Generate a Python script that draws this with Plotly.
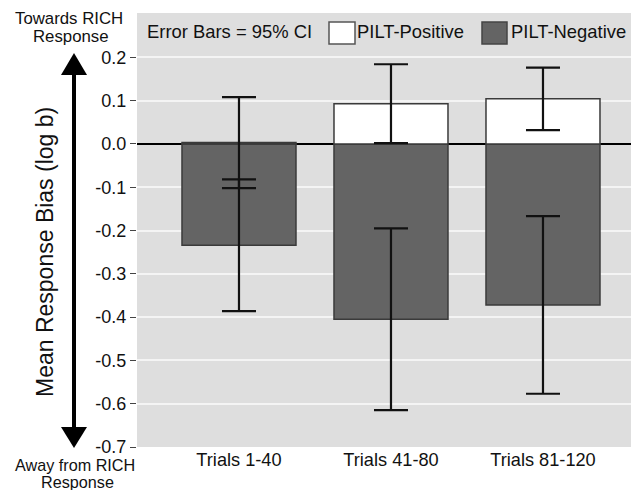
import plotly.graph_objects as go

# ---- data ----
categories = ["Trials 1-40", "Trials 41-80", "Trials 81-120"]
positive_mean = [0.003, 0.093, 0.104]
positive_ci = [0.105, 0.091, 0.072]
negative_mean = [-0.234, -0.405, -0.372]
negative_ci = [0.152, 0.210, 0.205]
y_ticks = [0.2, 0.1, 0.0, -0.1, -0.2, -0.3, -0.4, -0.5, -0.6, -0.7]
y_tick_text = [f"{v:.1f}" for v in y_ticks]

W, H = 631, 490
L, R, T, B = 137, 0, 13, 43
PW, PH = W - L - R, H - T - B

def px(x):
    return (x - L) / PW

def py(y):
    return (H - B - y) / PH

FONT = "Liberation Sans, Arial, Helvetica, sans-serif"
DARK = "#646464"
EDGE = "#3a3a3a"

fig = go.Figure()
fig.add_trace(go.Bar(
    x=categories, y=negative_mean, name="PILT-Negative", width=0.75,
    marker=dict(color=DARK, line=dict(color=EDGE, width=1.5)),
    error_y=dict(type="data", array=negative_ci, color="#111111", thickness=2.2, width=17),
))
fig.add_trace(go.Bar(
    x=categories, y=positive_mean, name="PILT-Positive", width=0.75,
    marker=dict(color="white", line=dict(color=EDGE, width=1.5)),
    error_y=dict(type="data", array=positive_ci, color="#111111", thickness=2.2, width=17),
))

shapes = []
# double-headed arrow
cx = 74
shapes.append(dict(type="line", xref="paper", yref="paper",
                   x0=px(cx), x1=px(cx), y0=py(72), y1=py(428),
                   line=dict(color="black", width=4)))
shapes.append(dict(type="path", xref="paper", yref="paper",
                   path=f"M {px(cx)} {py(53)} L {px(cx-13)} {py(75)} L {px(cx+13)} {py(75)} Z",
                   fillcolor="black", line=dict(color="black", width=0)))
shapes.append(dict(type="path", xref="paper", yref="paper",
                   path=f"M {px(cx)} {py(448)} L {px(cx-13)} {py(427)} L {px(cx+13)} {py(427)} Z",
                   fillcolor="black", line=dict(color="black", width=0)))
# legend boxes
shapes.append(dict(type="rect", xref="paper", yref="paper",
                   x0=px(329), x1=px(355), y0=py(44), y1=py(22),
                   fillcolor="white", line=dict(color="#555555", width=1.5)))
shapes.append(dict(type="rect", xref="paper", yref="paper",
                   x0=px(482), x1=px(507), y0=py(44), y1=py(22),
                   fillcolor=DARK, line=dict(color="#444444", width=1.5)))

ann = []
def text(s, x, y, size, xanchor="center", angle=0):
    ann.append(dict(text=s, xref="paper", yref="paper", x=px(x), y=py(y),
                    xanchor=xanchor, yanchor="middle", showarrow=False,
                    textangle=angle, borderpad=0,
                    font=dict(family=FONT, size=size, color="#111111")))

text("Towards RICH", 69, 18.5, 16.8)
text("Response", 71, 36.5, 16.8)
text("Away from RICH", 75, 465, 16.2)
text("Response", 77, 482, 16.2)
text("Mean Response Bias (log b)", 45, 252, 23, angle=-90)
text("Error Bars = 95% CI", 146, 32, 18.4, xanchor="left")
text("PILT-Positive", 356, 32, 18.4, xanchor="left")
text("PILT-Negative", 510, 32, 18.4, xanchor="left")

fig.update_layout(
    width=W, height=H,
    margin=dict(l=L, r=R, t=T, b=B, pad=0),
    barmode="overlay",
    showlegend=False,
    paper_bgcolor="white",
    plot_bgcolor="#dedede",
    font=dict(family=FONT, size=18, color="#111111"),
    shapes=shapes,
    annotations=ann,
    xaxis=dict(range=[-0.671, 2.579], showgrid=False, zeroline=False,
               ticks="", tickfont=dict(size=18.2), showline=False),
    yaxis=dict(range=[-0.7, -0.7 + PH / 433.0], tickvals=y_ticks, ticktext=y_tick_text,
               ticks="outside", ticklen=6, tickcolor="#444444", tickwidth=1,
               showgrid=True, gridcolor="#f4f4f4", gridwidth=1.5,
               zeroline=True, zerolinecolor="black", zerolinewidth=1.5,
               tickfont=dict(size=18), showline=False),
)

fig.write_html("out.html", config={"displayModeBar": False},
               post_script="document.body.style.margin='0';document.body.style.overflow='hidden';")
